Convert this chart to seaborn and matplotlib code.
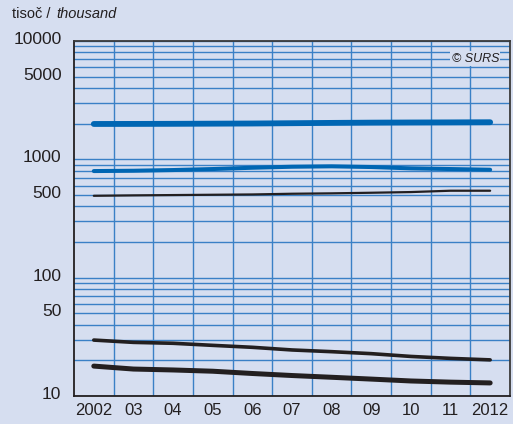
import matplotlib
matplotlib.use("Agg")
import matplotlib.pyplot as plt
import matplotlib.transforms as mtransforms
import seaborn as sns
import pandas as pd
from matplotlib.ticker import FixedLocator, FixedFormatter, NullFormatter

years = [2002, 2003, 2004, 2005, 2006, 2007, 2008, 2009, 2010, 2011, 2012]
year_labels = ["2002", "03", "04", "05", "06", "07", "08", "09", "10", "11", "2012"]

series_a = [1990, 1992, 1996, 2002, 2008, 2020, 2032, 2042, 2048, 2052, 2058]
series_b = [796, 801, 812, 828, 849, 866, 873, 861, 839, 828, 817]
series_c = [492, 496, 499, 502, 505, 512, 516, 522, 529, 543, 543]
series_d = [29.7, 28.4, 27.9, 26.8, 25.8, 24.5, 23.7, 22.8, 21.6, 20.8, 20.2]
series_e = [17.9, 16.9, 16.6, 16.2, 15.5, 14.9, 14.4, 13.9, 13.4, 13.1, 12.9]

y_ticks = [10, 50, 100, 500, 1000, 5000, 10000]

bg = "#d6def0"
grid_col = "#3a80c6"

sns.set_theme(style="white")
plt.rcParams["font.family"] = ["Liberation Sans", "DejaVu Sans"]

fig = plt.figure(figsize=(5.13, 4.24), dpi=100, facecolor=bg)
ax = fig.add_axes([0.1442, 0.066, 0.8499, 0.8373])
ax.set_facecolor(bg)

styles = [
    (series_a, "#0066b3", 4.2),
    (series_b, "#0066b3", 2.9),
    (series_c, "#231f20", 1.6),
    (series_d, "#231f20", 2.6),
    (series_e, "#231f20", 3.6),
]
for vals, col, lw in styles:
    df = pd.DataFrame({"year": years, "value": vals})
    sns.lineplot(data=df, x="year", y="value", color=col, linewidth=lw,
                 solid_capstyle="round", ax=ax, zorder=3)

ax.set_yscale("log")
ax.set_ylim(10, 10000)
ax.set_xlim(2001.5, 2012.5)

ax.yaxis.set_major_locator(FixedLocator(y_ticks))
ax.yaxis.set_major_formatter(FixedFormatter([str(t) for t in y_ticks]))
minor_y = [m * 10 ** e for e in range(1, 4) for m in range(1, 10)]
ax.yaxis.set_minor_locator(FixedLocator(minor_y))
ax.yaxis.set_minor_formatter(NullFormatter())

ax.xaxis.set_major_locator(FixedLocator(years))
ax.xaxis.set_major_formatter(FixedFormatter(year_labels))
ax.xaxis.set_minor_locator(FixedLocator([y + 0.5 for y in years[:-1]]))

ax.grid(False)
ax.grid(which="minor", axis="both", color=grid_col, linewidth=1.0, zorder=1)
ax.grid(which="major", axis="y", color=grid_col, linewidth=1.0, zorder=1)
ax.set_axisbelow(True)

ax.tick_params(axis="both", which="both", length=0)
ax.tick_params(axis="y", pad=9, labelsize=12.5, labelcolor="#231f20")
ax.tick_params(axis="x", pad=5, labelsize=12, labelcolor="#231f20")

# y labels sit a little above their gridlines in the original
shift = mtransforms.ScaledTranslation(0, 3 / 100, fig.dpi_scale_trans)
for lab in ax.get_yticklabels():
    lab.set_transform(lab.get_transform() + shift)

for side in ["left", "bottom", "right", "top"]:
    ax.spines[side].set_visible(True)
    ax.spines[side].set_color("#231f20")
    ax.spines[side].set_linewidth(1.3)
ax.spines["right"].set_color("#3a3a3a")
ax.spines["top"].set_color("#3a3a3a")

ax.set_xlabel("")
ax.set_ylabel("")

fig.text(12 / 513, 1 - 14 / 424, "tisoč / ", fontsize=10.5, color="#231f20",
         va="center", ha="left")
fig.text(56 / 513, 1 - 14 / 424, "thousand", fontsize=10.5, color="#231f20",
         va="center", ha="left", style="italic")

ax.text(0.975, 0.95, "© SURS", transform=ax.transAxes, ha="right", va="center",
        fontsize=9, style="italic", color="#231f20", zorder=5,
        bbox=dict(facecolor=bg, edgecolor="none", pad=1.0))

fig.savefig("out.png", dpi=100, facecolor=bg)
